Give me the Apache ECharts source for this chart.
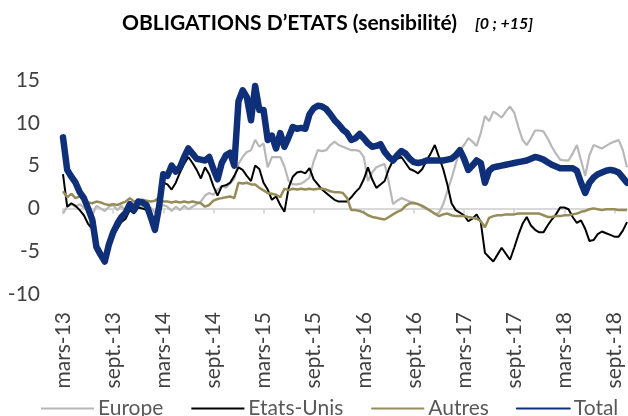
<!DOCTYPE html>
<html>
<head>
<meta charset="utf-8">
<script src="https://cdn.jsdelivr.net/npm/echarts@6/dist/echarts.min.js"></script>
<style>
  html, body { margin: 0; padding: 0; background: #fff; }
  #chart { width: 628px; height: 416px; }
</style>
</head>
<body>
<div id="chart"></div>
<script>
// semi-monthly points, from mars-13 to mid-oct.-18
var dates = [];
for (var y = 2013; y <= 2018; y++) {
  for (var m = 1; m <= 12; m++) {
    if (y === 2013 && m < 3) continue;
    if (y === 2018 && m > 10) continue;
    var mm = (m < 10 ? '0' : '') + m;
    dates.push(y + '-' + mm + '-01');
    dates.push(y + '-' + mm + '-16');
  }
}

var tickLabels = ['mars-13', 'sept.-13', 'mars-14', 'sept.-14', 'mars-15', 'sept.-15',
  'mars-16', 'sept.-16', 'mars-17', 'sept.-17', 'mars-18', 'sept.-18'];

var europe = [
  -0.6, 0.2, 0.5, 0.2, 0.5, 0.1, -0.3, -0.8, 0.3, 0.0, -0.3, 0.2,
  0.4, -0.2, 0.3, -0.4, 0.2, -0.3, 0.1, 0.4, -0.2, 0.1, -0.5, 0.0,
  0.4, 0.2, -0.3, 0.2, -0.2, 0.3, -0.1, 0.2, 0.5, 0.8, 1.5, 1.8,
  1.6, 2.2, 2.6, 2.4, 2.9, 3.5, 5.2, 6.0, 6.6, 6.8, 8.0, 7.2,
  7.6, 4.8, 6.0, 6.0, 6.0, 4.9, 3.2, 2.8, 2.8, 2.9, 3.2, 3.6,
  5.5, 6.8, 6.7, 6.8, 7.4, 7.8, 7.4, 7.2, 7.0, 6.8, 6.8, 6.7,
  6.0, 3.2, 4.2, 4.8, 5.0, 5.2, 3.0, 0.5, 0.9, 1.2, 1.0, 0.8,
  0.7, 0.5, 0.2, 0.0, -0.3, -0.7, -0.5, 0.5, 2.0, 3.5, 5.2, 6.8,
  7.4, 8.2, 7.8, 7.3, 8.8, 10.8, 10.2, 11.3, 11.0, 10.6, 11.3, 11.9,
  11.2, 9.5, 8.0, 7.4, 8.2, 9.1, 9.1, 9.0, 8.2, 7.2, 6.4, 5.7,
  5.6, 5.6, 6.4, 7.4, 5.6, 3.8, 6.2, 7.4, 7.2, 7.0, 7.3, 7.6,
  7.8, 8.0, 6.8, 4.8
];

var etatsUnis = [
  4.0, 0.2, 0.6, 0.3, -0.2, -0.8, -1.8, -2.4, -5.0, -5.8, -6.3, -4.8,
  -3.2, -2.4, -1.6, -1.2, -0.2, -0.6, 0.1, 0.0, -0.2, -1.4, -2.8, -0.5,
  3.0, 2.8, 2.2, 3.0, 4.2, 5.2, 6.0, 5.3, 4.5, 3.5, 4.8, 4.0,
  2.6, 1.5, 2.6, 2.7, 3.0, 3.8, 4.8, 4.5, 3.8, 3.2, 5.0, 4.6,
  3.0, 2.2, 1.0, 1.4, 0.4, -0.4, 2.4, 3.7, 4.2, 4.3, 4.1, 4.7,
  3.4, 2.8, 2.2, 1.8, 1.4, 1.0, 0.8, 0.8, 0.8, 1.3, 1.9, 2.4,
  3.4, 4.8, 3.4, 2.4, 2.8, 3.2, 4.6, 5.6, 5.8, 6.0, 5.3, 4.6,
  4.4, 4.1, 4.6, 5.6, 6.4, 7.4, 6.0, 4.6, 2.8, 0.6, -0.2, -0.5,
  -0.8, -1.5, -1.2, -0.7, -1.6, -5.2, -5.7, -6.2, -5.4, -4.6, -5.3, -6.0,
  -4.6, -3.1, -1.8, -1.0, -2.0, -2.5, -2.8, -2.8, -2.0, -1.3, -0.7, 0.1,
  0.1, -0.1, -1.0, -1.7, -1.4, -2.4, -3.8, -3.7, -3.0, -2.7, -2.9, -3.1,
  -3.3, -3.3, -2.6, -1.6
];

var autres = [
  2.0, 1.3, 1.7, 1.2, 1.4, 0.9, 0.7, 0.6, 0.8, 0.7, 0.5, 0.4,
  0.5, 0.4, 0.6, 0.8, 1.2, 0.8, 0.9, 1.0, 0.9, 0.8, 0.9, 1.3,
  0.8, 0.8, 0.7, 0.8, 0.7, 0.8, 0.7, 0.8, 0.7, 0.6, 0.2, 0.4,
  0.9, 1.1, 1.2, 1.3, 1.4, 1.2, 3.0, 2.9, 3.0, 2.8, 2.8, 2.4,
  2.1, 1.8, 1.7, 1.6, 1.3, 2.3, 2.1, 2.3, 2.2, 2.3, 2.2, 2.3,
  2.2, 2.3, 2.3, 2.2, 2.0, 1.9, 1.9, 1.8, 1.2, -0.2, -0.2, -0.3,
  -0.5, -0.8, -1.0, -1.1, -1.2, -1.3, -1.0, -0.7, -0.4, -0.2, 0.3, 0.6,
  0.6, 0.5, 0.3, 0.0, -0.3, -0.6, -0.9, -0.7, -0.6, -0.8, -0.9, -0.9,
  -0.9, -1.0, -1.1, -1.2, -1.5, -2.2, -1.1, -0.9, -0.8, -0.8, -0.7, -0.7,
  -0.7, -0.6, -0.6, -0.6, -0.6, -0.6, -0.6, -0.8, -1.0, -1.0, -0.9, -0.9,
  -0.8, -0.8, -0.7, -0.6, -0.4, -0.3, -0.1, 0.0, -0.1, -0.2, -0.1, -0.1,
  -0.1, -0.2, -0.2, -0.2
];

var total = [
  8.3, 4.5, 3.7, 3.0, 1.9, 1.2, 0.0, -1.3, -4.5, -5.4, -6.2, -4.2,
  -2.8, -1.8, -1.0, -0.5, 0.5, -0.2, 0.8, 0.7, 0.4, -1.0, -2.5, 0.2,
  4.0, 3.8, 5.0, 4.3, 4.8, 6.0, 7.0, 6.4, 5.8, 5.7, 5.6, 6.0,
  4.6, 3.4, 5.3, 6.2, 6.5, 5.0, 12.5, 13.8, 13.0, 10.3, 14.3, 11.5,
  11.5, 8.0, 8.5, 7.0, 8.8, 7.2, 8.3, 9.5, 9.3, 9.4, 9.3, 11.0,
  11.7, 12.0, 11.9, 11.6, 11.0, 10.3, 9.8, 9.2, 8.8, 8.0, 8.2, 8.7,
  8.2, 7.6, 7.2, 7.3, 7.5, 6.6, 6.0, 5.6, 6.2, 6.7, 6.4, 5.8,
  5.4, 5.3, 5.4, 5.6, 5.6, 5.6, 5.6, 5.6, 5.7, 5.8, 6.2, 6.8,
  5.8, 4.5, 5.0, 5.6, 5.3, 3.0, 4.4, 4.8, 4.9, 5.0, 5.1, 5.2,
  5.3, 5.4, 5.5, 5.6, 5.8, 6.0, 5.9, 5.7, 5.4, 5.1, 4.9, 4.7,
  4.7, 4.7, 4.7, 4.4, 3.0, 1.8, 3.0, 3.6, 4.0, 4.2, 4.4, 4.5,
  4.4, 4.2, 3.6, 3.0
];

var font = 'Lato, "Open Sans", sans-serif';
var chart = echarts.init(document.getElementById('chart'));

function isTick(index) {
  return index % 12 === 0;
}

var option = {
  animation: false,
  title: {
    text: '{a|OBLIGATIONS D’ETATS (sensibilité)}{b|[0 ; +15]}',
    left: 117,
    top: 8,
    textStyle: {
      rich: {
        a: { fontFamily: font, fontSize: 21, fontWeight: 'bold', color: '#000' },
        b: { fontFamily: font, fontSize: 16, fontWeight: 'bold', fontStyle: 'italic', color: '#000', padding: [0, 0, 0, 18] }
      }
    }
  },
  legend: {
    left: 35,
    top: 393,
    width: 900,
    itemWidth: 53,
    itemHeight: 14,
    itemGap: 27,
    itemStyle: { opacity: 0 },
    textStyle: { fontFamily: font, fontSize: 21, color: '#595959', padding: [0, 0, 0, -1] },
    data: ['Europe', 'Etats-Unis', 'Autres', 'Total']
  },
  grid: { left: 63, right: 1, top: 80, bottom: 122 },
  xAxis: [
    {
      type: 'category',
      data: dates,
      boundaryGap: false,
      position: 'bottom',
      axisLine: { onZero: true, lineStyle: { color: '#d9d9d9', width: 2 } },
      axisTick: { show: true, interval: isTick, length: 5, lineStyle: { color: '#d9d9d9', width: 2 } },
      axisLabel: { show: false },
      splitLine: { show: false }
    },
    {
      type: 'category',
      data: dates,
      boundaryGap: false,
      position: 'bottom',
      axisLine: { show: false, onZero: false },
      axisTick: { show: false },
      axisLabel: {
        interval: isTick,
        rotate: 90,
        margin: 18,
        fontFamily: font,
        fontSize: 21,
        color: '#404040',
        formatter: function (v, i) { return tickLabels[Math.round(i / 12)]; }
      },
      splitLine: { show: false }
    }
  ],
  yAxis: {
    type: 'value',
    min: -10,
    max: 15,
    interval: 5,
    axisLine: { show: false },
    axisTick: { show: false },
    splitLine: { show: false },
    axisLabel: { fontFamily: font, fontSize: 21, color: '#404040', margin: 23 }
  },
  series: [
    { name: 'Europe', type: 'line', data: europe, symbol: 'none', lineStyle: { color: '#b8b8b8', width: 2.2 }, itemStyle: { color: '#b8b8b8' } },
    { name: 'Etats-Unis', type: 'line', data: etatsUnis, symbol: 'none', lineStyle: { color: '#000000', width: 2 }, itemStyle: { color: '#000000' } },
    { name: 'Autres', type: 'line', data: autres, symbol: 'none', lineStyle: { color: '#968c5a', width: 2.5 }, itemStyle: { color: '#968c5a' } },
    { name: 'Total', type: 'line', data: total, symbol: 'none', lineStyle: { color: '#0f3079', width: 6.5, cap: 'round', join: 'round' }, itemStyle: { color: '#0f3079' } }
  ]
};
chart.setOption(option);
</script>
</body>
</html>
